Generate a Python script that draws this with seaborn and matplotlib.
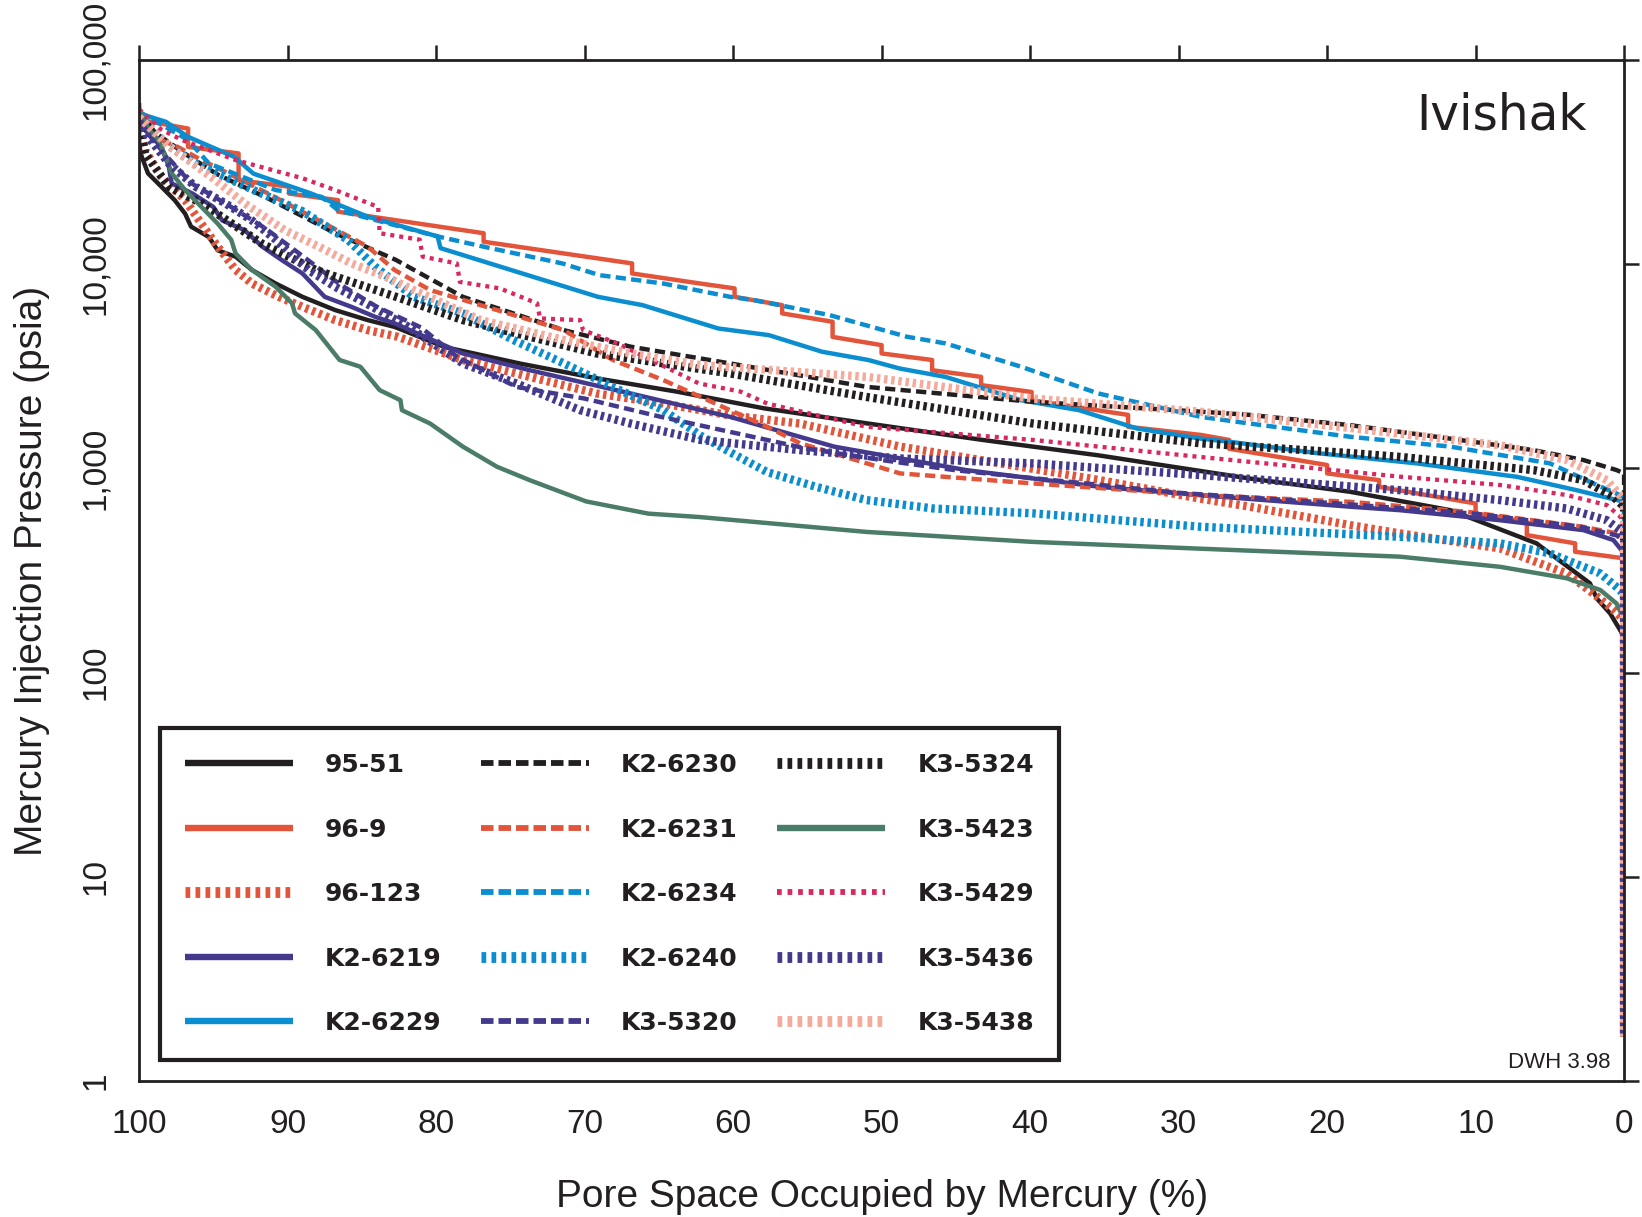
import matplotlib
matplotlib.use("Agg")
import matplotlib.pyplot as plt
from matplotlib.lines import Line2D
from matplotlib.ticker import NullLocator
import pandas as pd
import seaborn as sns

# ---------------- data (percent of pore space, pressure psia) ----------------
samples = ["95-51", "96-9", "96-123", "K2-6219", "K2-6229",
           "K2-6230", "K2-6231", "K2-6234", "K2-6240", "K3-5320",
           "K3-5324", "K3-5423", "K3-5429", "K3-5436", "K3-5438"]

x_95_51 = [100, 100, 99.9, 99.4, 98.5, 97.6, 96.9, 96.5, 95.3, 94.7, 93.5, 92.4, 90.8, 89.0, 86.8, 84.6,
           82.8, 79.4, 74.3, 69.0, 63.8, 57.9, 50.9, 43.2, 35.4, 31.9, 25.2, 18.45, 11.7, 5.9, 2.3, 1.84,
           0.94, 0, 0]
p_95_51 = [61700, 40000, 34900, 27900, 24000, 20600, 17700, 15300, 13600, 11700, 10900, 9380, 8050, 6930,
           5970, 5330, 4940, 3930, 3260, 2750, 2380, 1970, 1660, 1380, 1160, 1060, 893, 769, 625, 430, 274,
           231, 195, 150, 1.65]

x_96_9 = [100, 99.8, 96.7, 96.7, 93.3, 93.3, 89.9, 89.9, 86.6, 86.6, 76.8, 76.8, 66.8, 66.8, 62.2, 59.9,
          59.9, 56.7, 56.7, 53.3, 53.3, 50.0, 50.0, 46.6, 46.6, 43.3, 43.3, 39.9, 39.9, 33.4, 33.4, 28.5,
          26.6, 26.6, 20.0, 20.0, 16.5, 16.5, 10.0, 10.0, 6.55, 6.55, 3.3, 3.3, 0, 0]
p_96_9 = [52000, 50800, 46200, 37600, 34900, 25800, 24000, 22200, 20600, 18100, 14200, 12900, 10100, 9020,
          8050, 7620, 6930, 6310, 5750, 5230, 4410, 4020, 3660, 3400, 3030, 2810, 2560, 2370, 2160, 1830,
          1600, 1460, 1380, 1250, 1040, 946, 877, 813, 674, 602, 548, 472, 430, 391, 363, 1.65]

x_96_123 = [100, 99.6, 98.5, 96.9, 95.8, 94.7, 93.5, 92.4, 90.6, 89.0, 86.8, 84.6, 82.6, 78.2, 73.7, 69.2,
            64.7, 60.2, 55.5, 48.75, 42.0, 35.3, 28.6, 25.2, 18.45, 15.1, 8.35, 3.86, 2.07, 0.72, 0, 0]
p_96_123 = [50100, 36200, 26900, 20600, 15800, 12200, 9380, 8050, 6930, 6190, 5330, 4760, 4420, 3400, 2810,
            2330, 2080, 1820, 1660, 1280, 1060, 877, 713, 650, 528, 481, 406, 306, 244, 203, 181, 1.65]

x_k2_6219 = [100, 99.6, 98.5, 98.0, 97.8, 96.4, 95.0, 94.4, 92.9, 91.7, 90.4, 89.0, 87.5, 85.7, 84.1, 82.8,
             78.2, 73.7, 66.9, 60.2, 53.2, 44.3, 35.3, 28.6, 18.45, 15.1, 8.35, 2.74, 0.72, 0, 0]
p_k2_6219 = [52500, 45400, 37600, 30100, 24900, 22200, 19100, 16400, 14700, 12200, 10500, 9020, 6930, 6190,
             5530, 5140, 3660, 3030, 2330, 1790, 1280, 982, 813, 741, 650, 625, 558, 499, 446, 384, 1.65]

x_k2_6229 = [100, 98.2, 96.7, 93.6, 92.3, 88.4, 84.6, 79.9, 79.7, 74.2, 69.1, 66.1, 61.0, 57.6, 54.0, 50.9,
             48.8, 45.7, 40.6, 36.7, 32.8, 28.5, 26.5, 20.7, 14.0, 7.2, 3.2, 0, 0]
p_k2_6229 = [54800, 49900, 42100, 33600, 27800, 22200, 17100, 13700, 12000, 9020, 6930, 6310, 4850, 4500,
             3730, 3400, 3090, 2810, 2160, 1930, 1570, 1400, 1350, 1190, 1060, 910, 783, 687, 1.65]

x_k2_6230 = [100, 98.9, 96.7, 94.7, 91.3, 86.8, 82.7, 78.2, 74.8, 71.4, 66.9, 60.2, 51.0, 39.8, 28.6, 25.2,
             18.45, 11.7, 6.1, 2.74, 0.5, 0, 0]
p_k2_6230 = [55900, 44000, 34000, 27500, 21000, 14200, 10500, 6930, 5750, 4760, 3950, 3270, 2510, 2120, 1900,
             1830, 1630, 1400, 1230, 1100, 982, 946, 1.65]

x_k2_6231 = [100, 99.6, 97.4, 95.8, 94.0, 91.3, 87.9, 84.6, 82.8, 80.4, 75.9, 71.4, 68.1, 64.7, 60.2, 57.7,
             55.5, 48.75, 39.8, 28.6, 18.45, 10.6, 2.74, 0.5, 0, 0]
p_k2_6231 = [50000, 43700, 37600, 32400, 27900, 22200, 16400, 12200, 9380, 7480, 5970, 4760, 3400, 2710, 1930,
             1600, 1330, 946, 845, 741, 687, 614, 518, 481, 463, 1.65]

x_k2_6234 = [100, 96.7, 95.3, 90.8, 87.7, 86.6, 79.9, 76.8, 71.5, 69.0, 64.7, 60.2, 58.6, 53.5, 48.3, 45.7,
             40.6, 35.4, 28.5, 25.2, 18.45, 11.7, 5.0, 2.07, 0, 0]
p_k2_6234 = [55900, 40600, 31200, 23100, 21400, 18400, 13700, 12200, 10100, 8850, 8050, 6930, 6680, 5640,
             4420, 4100, 3150, 2330, 1790, 1660, 1430, 1280, 1060, 845, 726, 1.65]

x_k2_6240 = [100, 98, 96.2, 92.3, 89, 85.9, 84.1, 81.5, 78.2, 74.8, 71.4, 68.1, 64.7, 62.2, 60.0, 57.7,
             54.4, 51.0, 46.5, 39.8, 28.6, 15.1, 8.35, 5.0, 1.6, 0.27, 0, 0]
p_k2_6240 = [52700, 38000, 31200, 23100, 18200, 13100, 9730, 6930, 5750, 4260, 3270, 2510, 1930, 1450, 1180,
             960, 813, 700, 637, 603, 519, 463, 430, 384, 306, 254, 236, 1.65]

x_k3_5320 = [100, 99, 98, 96.5, 94, 91.5, 89, 86.5, 84, 81, 78.6, 74.6, 70, 65, 60, 55, 50, 45, 40, 30, 20,
             10, 3, 0.5, 0, 0]
p_k3_5320 = [50000, 40000, 33000, 25000, 19500, 15000, 11000, 8000, 6200, 4900, 3530, 2510, 2200, 1800, 1500,
             1250, 1100, 980, 900, 760, 680, 600, 520, 470, 440, 1.65]

x_k3_5324 = [100, 99.6, 98.0, 95.8, 91.7, 88.1, 82.7, 78.2, 73.7, 69.2, 64.7, 60.2, 51.0, 39.8, 28.6, 18.45,
             15.1, 9.5, 6.1, 2.74, 0.72, 0, 0]
p_k3_5324 = [50000, 34900, 24000, 19900, 12600, 9380, 6930, 5330, 4420, 3660, 3270, 2920, 2240, 1660, 1330,
             1190, 1140, 1040, 982, 877, 726, 649, 1.65]

x_k3_5423 = [100, 99.3, 98.7, 98.2, 97.8, 96.9, 95.8, 94.7, 93.8, 93.5, 92.4, 90.8, 89.7, 89.5, 88.1, 86.5,
             85.1, 83.8, 82.4, 82.3, 80.4, 78.2, 75.9, 73.7, 69.9, 65.7, 62.2, 51.0, 39.8, 28.6, 15.1, 8.35,
             3.86, 1.6, 0.5, 0, 0]
p_k3_5423 = [56200, 45400, 40600, 33600, 27900, 23100, 19100, 15800, 13200, 11300, 9380, 7760, 6440, 5750,
             4760, 3400, 3150, 2420, 2160, 1930, 1660, 1280, 1020, 877, 690, 601, 578, 489, 437, 405, 370, 330,
             290, 254, 218, 181, 1.65]

x_k3_5429 = [100, 98.5, 97.1, 93.5, 89.0, 86.8, 83.9, 83.8, 81.1, 80.9, 78.6, 78.4, 75.7, 73.2, 73.0, 70.3,
             70.1, 67.8, 62.3, 59.5, 57.7, 51.0, 39.8, 28.6, 15.1, 8.35, 3.86, 1.16, 0.27, 0, 0]
p_k3_5429 = [57500, 45700, 40600, 32400, 26400, 23100, 19100, 14200, 13200, 10900, 10100, 8200, 7620, 6440,
             5430, 5330, 4760, 4100, 2610, 2380, 2080, 1600, 1380, 1140, 912, 830, 741, 662, 581, 550, 1.65]

x_k3_5436 = [100, 99.4, 98.0, 96.2, 94.2, 92.4, 90.8, 88.6, 86.8, 84.5, 82, 78.2, 74.6, 70.3, 66.9, 62.2,
             55.5, 48.75, 39.8, 28.6, 15.1, 8.35, 3.86, 1.16, 0.27, 0, 0]
p_k3_5436 = [50100, 42100, 31200, 24000, 19900, 16400, 13200, 9380, 7760, 6310, 5010, 3270, 2610, 1930, 1660,
             1380, 1230, 1120, 1060, 929, 783, 700, 637, 558, 499, 447, 1.65]

x_k3_5438 = [100, 98, 95, 92.9, 90.2, 87.9, 85.7, 83.4, 81.5, 77.0, 71.4, 66.9, 62.2, 51.0, 39.8, 28.6,
             18.45, 15.1, 8.35, 3.86, 1.16, 0, 0]
p_k3_5438 = [52500, 38000, 26300, 19900, 14700, 12200, 10100, 8690, 7480, 5330, 4260, 3660, 3210, 2810, 2200,
             1900, 1580, 1480, 1300, 1100, 877, 700, 1.65]

x_ticks = [100, 90, 80, 70, 60, 50, 40, 30, 20, 10, 0]
x_tick_labels = ["100", "90", "80", "70", "60", "50", "40", "30", "20", "10", "0"]
y_ticks = [1, 10, 100, 1000, 10000, 100000]
y_tick_labels = ["1", "10", "100", "1,000", "10,000", "100,000"]

series_x = [x_95_51, x_96_9, x_96_123, x_k2_6219, x_k2_6229, x_k2_6230, x_k2_6231, x_k2_6234,
            x_k2_6240, x_k3_5320, x_k3_5324, x_k3_5423, x_k3_5429, x_k3_5436, x_k3_5438]
series_p = [p_95_51, p_96_9, p_96_123, p_k2_6219, p_k2_6229, p_k2_6230, p_k2_6231, p_k2_6234,
            p_k2_6240, p_k3_5320, p_k3_5324, p_k3_5423, p_k3_5429, p_k3_5436, p_k3_5438]

# ---------------- styles ----------------
BLACK = "#231f20"
RED = "#e2553b"
PURPLE = "#433a8e"
BLUE = "#0a8ecf"
GREEN = "#4a7c68"
CRIMSON = "#d9285f"
PINK = "#f6aa9c"
colors = [BLACK, RED, RED, PURPLE, BLUE, BLACK, RED, BLUE, BLUE, PURPLE, BLACK, GREEN, CRIMSON, PURPLE, PINK]
kinds = ["solid", "solid", "bars", "solid", "solid", "dash", "dash", "dash", "bars", "dash",
         "bars", "solid", "dot", "bars", "bars"]

plot_style = {"solid": (3.2, None), "dash": (3.2, (7.4, 3.8)), "bars": (6.0, (2.5, 2.7)),
              "dot": (3.1, (2.9, 3.6))}
leg_style = {"solid": (4.6, None), "dash": (4.2, (9.0, 3.6)), "bars": (7.8, (3.4, 3.8)),
             "dot": (4.2, (3.4, 4.2))}

df = pd.concat([pd.DataFrame({"sample": s, "pct": xs, "psi": ps})
                for s, xs, ps in zip(samples, series_x, series_p)], ignore_index=True)

sns.set_theme(style="white")
plt.rcParams["font.family"] = ["Liberation Sans", "DejaVu Sans"]
plt.rcParams["lines.scale_dashes"] = False
plt.rcParams["lines.dash_capstyle"] = "butt"
plt.rcParams["lines.solid_capstyle"] = "butt"

fig = plt.figure(figsize=(16.42, 12.17), dpi=100)
ax = fig.add_axes([0.0847, 0.1117, 0.9044, 0.8389])
ax.set_yscale("log")

handles = []
for s, c, k in zip(samples, colors, kinds):
    sub = df[df["sample"] == s]
    sns.lineplot(data=sub, x="pct", y="psi", ax=ax, sort=False, estimator=None,
                 color=c, legend=False)
    ln = ax.lines[-1]
    lw, dash = plot_style[k]
    ln.set_linewidth(lw)
    if dash is not None:
        ln.set_linestyle((0, dash))
    llw, ldash = leg_style[k]
    handles.append(Line2D([], [], color=c, linewidth=llw,
                          linestyle="-" if ldash is None else (0, ldash)))

ax.set_xlim(100, 0)
ax.set_ylim(1, 100000)
ax.yaxis.set_minor_locator(NullLocator())
ax.set_xticks(x_ticks)
ax.set_xticklabels(x_tick_labels, fontsize=24)
ax.set_yticks(y_ticks)
ax.set_yticklabels(y_tick_labels, fontsize=24, rotation=90, va="center")
ax.tick_params(axis="both", which="major", direction="out", length=11, width=1.8,
               color=BLACK, labelcolor=BLACK, top=True, right=True, labeltop=False,
               labelright=False, pad=9)
for sp in ax.spines.values():
    sp.set_linewidth(2.0)
    sp.set_color(BLACK)
ax.grid(False)

ax.set_xlabel("Pore Space Occupied by Mercury (%)", fontsize=28, color=BLACK, labelpad=28)
ax.set_ylabel("Mercury Injection Pressure (psia)", fontsize=28, color=BLACK, labelpad=22)

ax.text(0.975, 0.946, "Ivishak", transform=ax.transAxes, ha="right", va="center",
        fontsize=35, color=BLACK, family=["DejaVu Sans"])
ax.text(0.991, 0.008, "DWH 3.98", transform=ax.transAxes, ha="right", va="bottom",
        fontsize=16, color=BLACK)

leg = ax.legend(handles, samples, ncol=3, loc="lower left", mode="expand",
                bbox_to_anchor=(0.0141, 0.0206, 0.6054, 0.3234), borderaxespad=0,
                prop={"family": "DejaVu Sans", "weight": "bold", "size": 18},
                handlelength=4.3, handletextpad=1.3, labelspacing=1.62, borderpad=1.0,
                columnspacing=1.2, fancybox=False, framealpha=1, edgecolor=BLACK)
leg.get_frame().set_linewidth(3.0)
for t in leg.get_texts():
    t.set_color(BLACK)

fig.savefig("out.png", dpi=100)
